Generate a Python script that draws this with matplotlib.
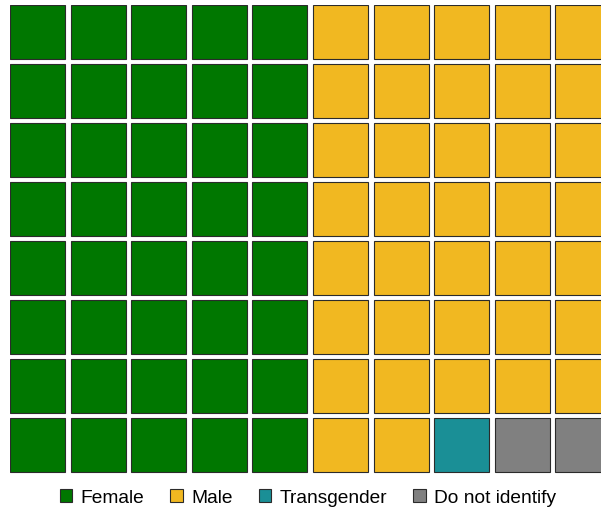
import matplotlib.pyplot as plt
from matplotlib.patches import Rectangle, Patch

plt.rcParams["font.family"] = ["Liberation Sans", "DejaVu Sans"]

categorias = ["Female", "Male", "Transgender", "Do not identify"]
conteos = [40, 37, 1, 2]
colores = ["#007700", "#F1B821", "#1A8F96", "#808080"]

N_FILAS = 8
N_COLS = 10
ANCHO_BLOQUE = 5

# cells are filled row by row inside blocks of 5 columns, top to bottom
celdas = []
for b in range(N_COLS // ANCHO_BLOQUE):
    for f in range(N_FILAS):
        for c in range(ANCHO_BLOQUE):
            celdas.append((b * ANCHO_BLOQUE + c, N_FILAS - 1 - f))

asignacion = []
for cat, n in zip(range(len(categorias)), conteos):
    asignacion += [cat] * n

W, H = 601, 509
fig = plt.figure(figsize=(W / 100, H / 100), dpi=100)
px_col, px_fila = 60.6, 59.0
x0, y_top = 10, 5
ax = fig.add_axes([x0 / W, (H - y_top - N_FILAS * px_fila) / H,
                   N_COLS * px_col / W, N_FILAS * px_fila / H])
ax.set_xlim(0, N_COLS)
ax.set_ylim(0, N_FILAS)
ax.axis("off")

for (cx, cy), cat in zip(celdas, asignacion):
    ax.add_patch(Rectangle((cx, cy + 1 - 54 / px_fila), 55 / px_col, 54 / px_fila,
                           facecolor=colores[cat], edgecolor="#2b2b2b", linewidth=0.8))

handles = [Patch(facecolor=col, edgecolor="#2b2b2b", linewidth=0.8, label=cat)
           for cat, col in zip(categorias, colores)]
fig.legend(handles=handles, loc="center", bbox_to_anchor=(308 / W, 1 - 498 / H),
           ncol=4, frameon=False, fontsize=13.8, handlelength=0.65, handleheight=0.65,
           handletextpad=0.45, columnspacing=1.35, borderaxespad=0)

fig.savefig("out.png", dpi=100)
